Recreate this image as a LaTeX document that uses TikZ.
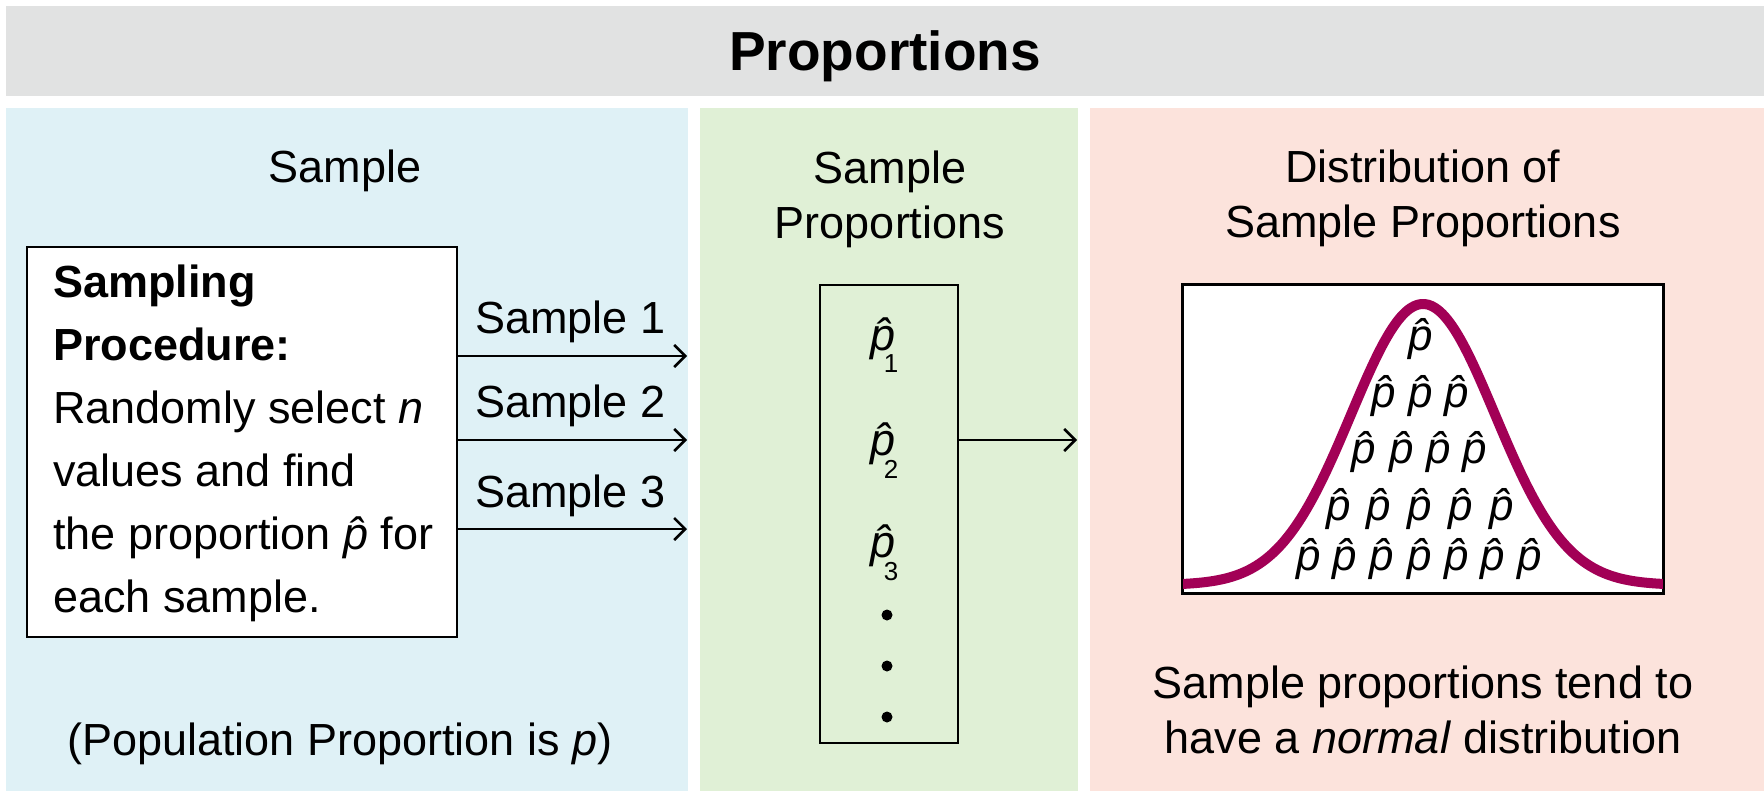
\documentclass[tikz,border=0pt]{standalone}
\usepackage{fontspec}
\setmainfont{Liberation Sans}
\usetikzlibrary{arrows.meta}
\definecolor{bgGray}{RGB}{225,226,226}
\definecolor{bgBlue}{RGB}{223,241,246}
\definecolor{bgGreen}{RGB}{224,240,214}
\definecolor{bgPink}{RGB}{252,227,220}
\definecolor{curveCol}{RGB}{162,0,86}
\newcommand\phatx{{\itshape\accent"02C6 p}}
\begin{document}
\begin{tikzpicture}[x=1pt,y=-1pt,
  txt/.style={font=\fontsize{45}{55}\selectfont, inner sep=0pt, anchor=base},
  boxn/.style={draw, line width=2.8pt, inner sep=0pt},
  arr/.style={line width=2.6pt, -{Straight Barb[length=11pt,width=22pt]}},
  dp/.style={font=\fontsize{44}{44}\selectfont, inner sep=0pt, anchor=base},
  subn/.style={font=\fontsize{26}{26}\selectfont, inner sep=0pt, anchor=base},
  dotn/.style={circle, fill=black, inner sep=0pt, minimum size=11pt}]
\useasboundingbox (0,0) rectangle (1764,793);
\fill[white] (0,0) rectangle (1764,793);
% panels
\fill[bgGray] (6,6) rectangle (1764,96);
\fill[bgBlue] (6,108) rectangle (688,791);
\fill[bgGreen] (700,108) rectangle (1078,791);
\fill[bgPink] (1090,108) rectangle (1764,791);
% title
\node[txt, font=\fontsize{55}{60}\selectfont\bfseries] (title) at (885,70) {Proportions};
% headers (base anchor = last line of multi-line nodes)
\node[txt] (h1) at (345,182) {Sample};
\node[txt, align=center] (h2) at (890,238) {Sample\\Proportions};
\node[txt, align=center] (h3) at (1423,237) {Distribution of\\Sample Proportions};
% sampling box
\node[boxn, fill=white, minimum width=430pt, minimum height=390pt] (proc) at (242,442) {};
\node[txt, anchor=base west, align=left, font=\fontsize{45}{63}\selectfont] (proctext) at (53,612)
  {\textbf{Sampling}\\\textbf{Procedure:}\\Randomly select \textit{n}\\values and find\\the proportion \phatx{} for\\each sample.};
% sample arrows
\coordinate (e1) at (687,356);
\coordinate (e2) at (687,440);
\coordinate (e3) at (687,529);
\draw[arr] (proc.east |- e1) -- (e1);
\draw[arr] (proc.east |- e2) -- (e2);
\draw[arr] (proc.east |- e3) -- (e3);
\node[txt, anchor=base west] (l1) at (475,333) {Sample 1};
\node[txt, anchor=base west] (l2) at (475,417) {Sample 2};
\node[txt, anchor=base west] (l3) at (475,507) {Sample 3};
% column of sample proportions
\node[boxn, minimum width=138pt, minimum height=458pt] (col) at (889,514) {};
\node[txt] (c1) at (883,350) {\phatx};
\node[txt] (c2) at (883,455) {\phatx};
\node[txt] (c3) at (883,557) {\phatx};
\node[subn] (s1) at (891,372) {1};
\node[subn] (s2) at (891,478) {2};
\node[subn] (s3) at (891,580) {3};
\node[dotn] (dot1) at (887,615) {};
\node[dotn] (dot2) at (887,666) {};
\node[dotn] (dot3) at (887,717) {};
\coordinate (g1) at (1077,440);
\draw[arr] (col.east |- g1) -- (g1);
% distribution plot
\node[draw, line width=2.4pt, fill=white, minimum width=480pt, minimum height=308pt, inner sep=0pt] (plot) at (1423,439) {};
\begin{scope}
  \clip (plot.south west) rectangle (plot.north east);
  \draw[curveCol, line width=10pt] plot[domain=-3.4:3.4, samples=140, smooth] ({1423+72*\x},{585-281*exp(-0.5*\x*\x)});
\end{scope}
\draw[line width=2.4pt] (plot.south west) rectangle (plot.north east);
\foreach \yy/\xs [count=\r] in {350/{1421}, 407/{1384,1421,1457}, 463/{1364,1402,1439,1475}, 520/{1339,1379,1420,1461,1502}, 570/{1309,1345,1382,1420,1457,1493,1530}} {
  \foreach \xx [count=\i] in \xs {
    \node[dp] (d\r-\i) at (\xx,\yy) {\phatx};
  }
}
% bottom notes
\node[txt] (popn) at (340,755) {(Population Proportion is \textit{p})};
\node[txt, align=center] (note) at (1423,753) {Sample proportions tend to\\have a \textit{normal} distribution};
\end{tikzpicture}
\end{document}
